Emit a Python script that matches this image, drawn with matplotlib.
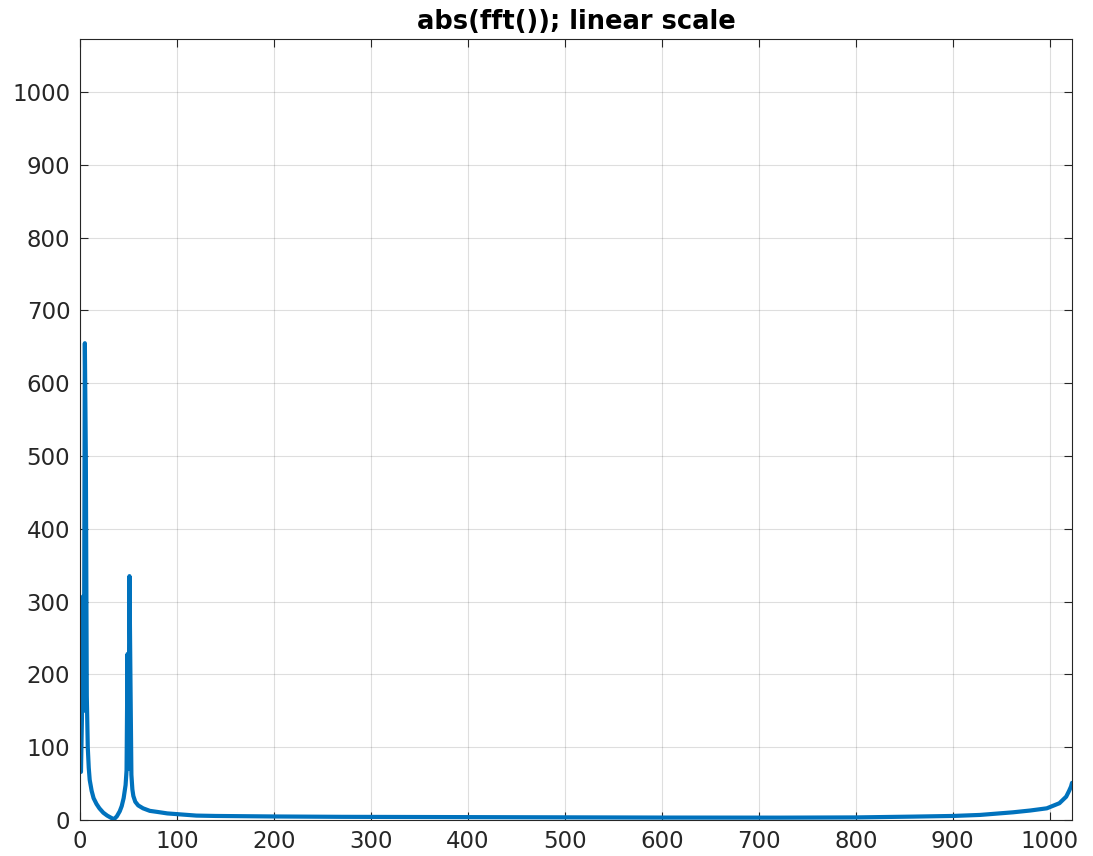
import numpy as np
import matplotlib
matplotlib.use('Agg')
import matplotlib.pyplot as plt

# 频谱幅值 (bin, |fft|)
bins = [1, 2, 3, 4, 5, 6, 7, 8, 9, 10, 12, 14, 17, 20, 24, 28, 32, 35,
        38, 41, 43, 45, 47, 48, 49, 50, 51, 52, 53, 54, 55, 57, 60, 65,
        72, 80, 90, 100, 120, 140, 200, 270, 370, 500, 600, 722, 800,
        859, 900, 928, 962, 980, 997, 1010, 1017, 1020, 1022, 1023]
mag = [66, 140, 307, 150, 655, 500, 170, 100, 72, 55, 40, 30, 22, 16, 10, 6, 3, 1,
       5, 12, 19, 30, 48, 68, 228, 70, 335, 195, 62, 42, 33, 25, 20, 16,
       12.5, 11, 9, 8, 6, 5.5, 4.8, 4.3, 4.0, 3.6, 3.3, 3.2, 3.5,
       4.6, 5.5, 6.9, 10.5, 13, 16, 23, 32, 40, 46, 51]

xticks = np.arange(0, 1001, 100)
yticks = np.arange(0, 1001, 100)

fig = plt.figure(figsize=(10.93, 8.56), dpi=100)
ax = fig.add_axes([0.0732, 0.0421, 0.9076, 0.9124])

ax.plot(bins, mag, color='#0072BD', linewidth=3, solid_joinstyle='round',
        solid_capstyle='round')

ax.set_xlim(0, 1023)
ax.set_ylim(0, 1073)
ax.set_xticks(xticks)
ax.set_yticks(yticks)

ax.grid(True, color='#262626', alpha=0.15, linewidth=0.8)
ax.tick_params(direction='in', length=6, width=0.8, top=True, right=True,
               labelsize=16.5, colors='#262626', pad=7)
for s in ax.spines.values():
    s.set_color('#262626')
    s.set_linewidth(0.8)

ax.set_title('abs(fft()); linear scale', fontsize=18.5, fontweight='bold', pad=7)

fig.savefig('out.png', dpi=100)
